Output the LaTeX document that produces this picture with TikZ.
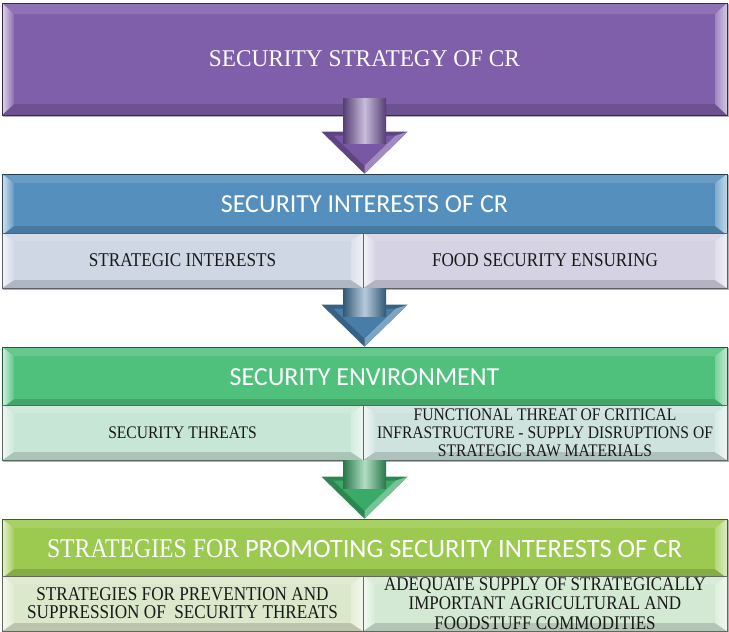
\documentclass[tikz,border=0pt]{standalone}
\usepackage{fontspec}
\setmainfont{Liberation Serif}
\newfontfamily\serifc[FakeStretch=0.88]{Liberation Serif}
\newfontfamily\serift[FakeStretch=0.97]{Liberation Serif}
\newfontfamily\sanf{Carlito}
\usetikzlibrary{calc,backgrounds}
\definecolor{purp}{RGB}{128,95,170}
\definecolor{blu}{RGB}{84,143,189}
\definecolor{grn}{RGB}{80,193,125}
\definecolor{lim}{RGB}{156,201,80}
\definecolor{bluL}{RGB}{207,215,229}
\definecolor{bluR}{RGB}{213,211,227}
\definecolor{grnL}{RGB}{200,230,214}
\definecolor{grnR}{RGB}{206,227,222}
\definecolor{limL}{RGB}{220,232,203}
\definecolor{limR}{RGB}{211,233,211}
\definecolor{arP}{RGB}{120,88,165}
\definecolor{arB}{RGB}{72,125,168}
\definecolor{arG}{RGB}{58,170,105}
\tikzset{
  bev/.style args={#1/#2/#3}{fill=#1, draw=#1!45!black, line width=0.6pt, inner sep=0pt,
    path picture={
      \path (path picture bounding box.north west) coordinate (bNW)
            (path picture bounding box.north east) coordinate (bNE)
            (path picture bounding box.south east) coordinate (bSE)
            (path picture bounding box.south west) coordinate (bSW);
      \path ([shift={(#2,#3)}]bNW) coordinate (iNW)
            ([shift={(-#2,#3)}]bNE) coordinate (iNE)
            ([shift={(-#2,-#3)}]bSE) coordinate (iSE)
            ([shift={(#2,-#3)}]bSW) coordinate (iSW);
      \fill[#1!88!white] (bNW) -- (bNE) -- (iNE) -- (iNW) -- cycle;
      \fill[#1!85!black] (bSW) -- (bSE) -- (iSE) -- (iSW) -- cycle;
      \shade[left color=#1!75!white, right color=#1!35!white] (bNE) -- (bSE) -- (iSE) -- (iNE) -- cycle;
      \shade[left color=#1!25!white, right color=#1!92!white] (bNW) -- (bSW) -- (iSW) -- (iNW) -- cycle;
    }},
  hdr/.style={text=white, align=center},
  subtxt/.style={text=black!90, align=center},
  fB/.style={font=\serifc\fontsize{19.5}{19.5}\selectfont},
  fG/.style={font=\serifc\fontsize{17.7}{18}\selectfont},
  fL/.style={font=\serifc\fontsize{19.5}{18}\selectfont},
}
\newcommand\blockarrow[3]{%
  \fill[#3!78!black] let \p2=(#2) in (\x2-43pt,\y2+42pt) -- (\x2+43pt,\y2+42pt) -- (\x2,\y2) -- cycle;
  \fill[#3] let \p2=(#2) in (\x2-31pt,\y2+38pt) -- (\x2+31pt,\y2+38pt) -- (\x2,\y2+8pt) -- cycle;
  \fill[#3!70!white] let \p2=(#2) in (\x2+31pt,\y2+38pt) -- (\x2+43pt,\y2+42pt) -- (\x2,\y2) -- (\x2,\y2+8pt) -- cycle;
  \shade[left color=#3!70!black, right color=#3!70!black, middle color=#3!40!white]
    let \p1=(#1), \p2=(#2) in (\x2-21.5pt,\y1) rectangle (\x2+21.5pt,\y2+30pt);
}
\begin{document}
\begin{tikzpicture}[x=1pt,y=-1pt]
\useasboundingbox (0,0) rectangle (729,632);
% top
\node[bev=purp/12/11, minimum width=725pt, minimum height=112pt, hdr,
      font=\serift\fontsize{24}{24}\selectfont] (top) at (364.5,59) {SECURITY STRATEGY OF CR};
% interests
\node[bev=blu/12/9, minimum width=725pt, minimum height=61pt, hdr,
      font=\sanf\fontsize{26}{26}\selectfont] (int) at (364.5,204.5) {SECURITY INTERESTS OF CR};
\node[bev=bluL/12/8, minimum width=361pt, minimum height=55pt] (intL) at (182.5,260.5) {};
\node[bev=bluR/12/8, minimum width=364pt, minimum height=55pt] (intR) at (545,260.5) {};
\node[subtxt, fB] (intLt) at (intL) {STRATEGIC INTERESTS};
\node[subtxt, fB] (intRt) at (intR) {FOOD SECURITY ENSURING};
% environment
\node[bev=grn/12/9, minimum width=725pt, minimum height=61pt, hdr,
      font=\sanf\fontsize{26}{26}\selectfont] (env) at (364.5,377.5) {SECURITY ENVIRONMENT};
\node[bev=grnL/12/8, minimum width=361pt, minimum height=55pt] (envL) at (182.5,432.5) {};
\node[bev=grnR/12/8, minimum width=364pt, minimum height=55pt] (envR) at (545,432.5) {};
\node[subtxt, fG] (envLt) at (envL) {SECURITY THREATS};
\node[subtxt, fG] (envRt) at (envR) {FUNCTIONAL THREAT OF CRITICAL\\INFRASTRUCTURE - SUPPLY DISRUPTIONS OF\\STRATEGIC RAW MATERIALS};
% strategies
\node[bev=lim/12/9, minimum width=725pt, minimum height=59pt, hdr] (str) at (364.5,548.5)
  {{\serifc\fontsize{27}{27}\selectfont STRATEGIES FOR }{\sanf\fontsize{26.5}{26.5}\selectfont PROMOTING SECURITY INTERESTS OF CR}};
\node[bev=limL/12/8, minimum width=361pt, minimum height=55pt] (strL) at (182.5,603.5) {};
\node[bev=limR/12/8, minimum width=364pt, minimum height=55pt] (strR) at (545,603.5) {};
\node[subtxt, fL] (strLt) at (strL) {STRATEGIES FOR PREVENTION AND\\SUPPRESSION OF\ \ SECURITY THREATS};
\node[subtxt, fL, font=\serifc\fontsize{19.3}{19.5}\selectfont] (strRt) at (strR) {ADEQUATE SUPPLY OF STRATEGICALLY\\IMPORTANT AGRICULTURAL AND\\FOODSTUFF COMMODITIES};
% shadows
\begin{scope}[on background layer]
\foreach \n in {top,int,intL,intR,env,envL,envR,str,strL,strR}
  \fill[black!30] ([shift={(1.5pt,-1.5pt)}]\n.north west) rectangle ([shift={(1.5pt,-1.5pt)}]\n.south east);
\end{scope}
% arrows
\coordinate (a1s) at ([yshift=17pt]top.south);
\blockarrow{a1s}{int.north}{arP}
\blockarrow{intL.south east}{env.north}{arB}
\blockarrow{envL.south east}{str.north}{arG}
\end{tikzpicture}
\end{document}
